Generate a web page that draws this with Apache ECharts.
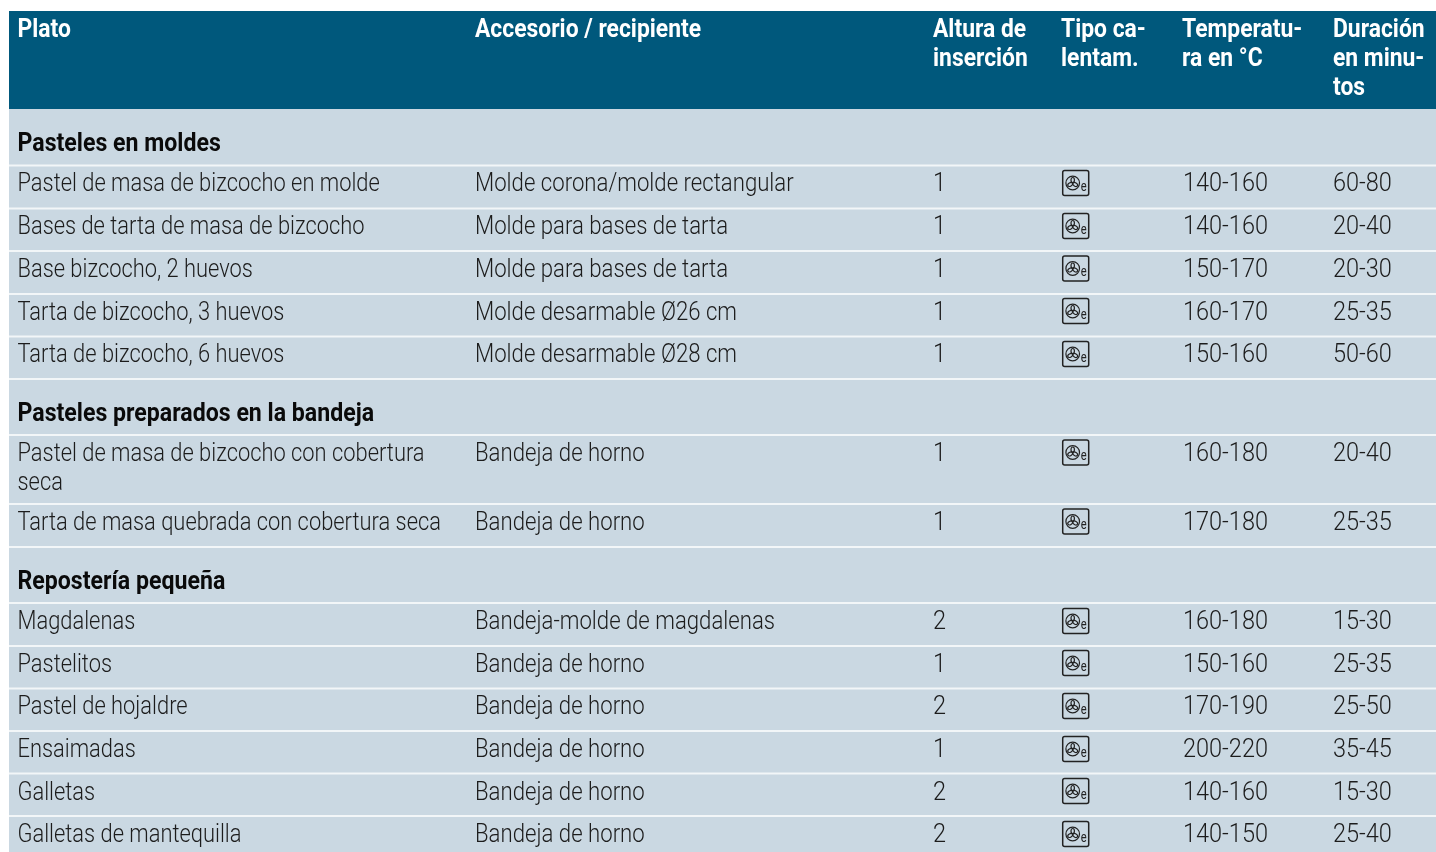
<!DOCTYPE html>
<html>
<head>
<meta charset="utf-8">
<style>
  html, body { margin: 0; padding: 0; background: #fff; }
  #main { width: 1436px; height: 852px; }
</style>
<script src="https://cdn.jsdelivr.net/npm/echarts@6/dist/echarts.min.js"></script>
</head>
<body>
<div id="main"></div>
<script>
// table contents
const headers = [
  ['Plato'],
  ['Accesorio / recipiente'],
  ['Altura de', 'inserción'],
  ['Tipo ca-', 'lentam.'],
  ['Temperatu-', 'ra en °C'],
  ['Duración', 'en minu-', 'tos']
]
const sections = ['Pasteles en moldes', 'Pasteles preparados en la bandeja', 'Repostería pequeña']
const platos = [
  ['Pastel de masa de bizcocho en molde'],
  ['Bases de tarta de masa de bizcocho'],
  ['Base bizcocho, 2 huevos'],
  ['Tarta de bizcocho, 3 huevos'],
  ['Tarta de bizcocho, 6 huevos'],
  ['Pastel de masa de bizcocho con cobertura', 'seca'],
  ['Tarta de masa quebrada con cobertura seca'],
  ['Magdalenas'],
  ['Pastelitos'],
  ['Pastel de hojaldre'],
  ['Ensaimadas'],
  ['Galletas'],
  ['Galletas de mantequilla']
]
const accesorios = [
  'Molde corona/molde rectangular',
  'Molde para bases de tarta',
  'Molde para bases de tarta',
  'Molde desarmable Ø26 cm',
  'Molde desarmable Ø28 cm',
  'Bandeja de horno',
  'Bandeja de horno',
  'Bandeja-molde de magdalenas',
  'Bandeja de horno',
  'Bandeja de horno',
  'Bandeja de horno',
  'Bandeja de horno',
  'Bandeja de horno'
]
const alturas = ['1', '1', '1', '1', '1', '1', '1', '2', '1', '2', '1', '2', '2']
const temperaturas = ['140-160', '140-160', '150-170', '160-170', '150-160', '160-180', '170-180', '160-180', '150-160', '170-190', '200-220', '140-160', '140-150']
const duraciones = ['60-80', '20-40', '20-30', '25-35', '50-60', '20-40', '25-35', '15-30', '25-35', '25-50', '35-45', '15-30', '25-40']

// layout, in page pixels
const colX = [17.5, 475, 933, 1061, 1182, 1333]
const headerLineY = [31, 60, 89]
const sectionY = [145, 415, 583]
const rowY = [185, 228, 271, 314, 356, 455, 524, 623, 666, 708, 751, 794, 836]
const iconY = [183, 226, 268.5, 311, 354, 452.5, 521.5, 621, 663, 706, 749, 791, 834]
const lineY = [165.5, 208.5, 251, 294, 336.5, 379, 435, 504, 547, 603, 646, 688.5, 731, 773.5, 816]
const lineHeight = 29

const BODY_FONT = 'Roboto'
const PLATO_SCALE = 0.875
const ACCESORIO_SCALE = 0.887
const NUMBER_SCALE = 0.94
const HEAD_SCALE = 0.915
const SECTION_SCALE = 0.925

const textData = []
headers.forEach((lines, c) => lines.forEach((t, i) => textData.push([colX[c], headerLineY[i], t, 700, '#ffffff', HEAD_SCALE])))
sections.forEach((t, i) => textData.push([colX[0], sectionY[i], t, 700, '#0a0a0a', SECTION_SCALE]))
platos.forEach((lines, r) => {
  lines.forEach((t, i) => textData.push([colX[0], rowY[r] + i * lineHeight, t, 300, '#1c1c1c', PLATO_SCALE]))
  textData.push([colX[1], rowY[r], accesorios[r], 300, '#1c1c1c', ACCESORIO_SCALE])
  textData.push([colX[2], rowY[r], alturas[r], 300, '#1c1c1c', NUMBER_SCALE])
  textData.push([colX[4] + 1, rowY[r], temperaturas[r], 300, '#1c1c1c', NUMBER_SCALE])
  textData.push([colX[5], rowY[r], duraciones[r], 300, '#1c1c1c', NUMBER_SCALE])
})

function renderBand(params, api) {
  const a = api.coord([api.value(0), api.value(1)])
  const b = api.coord([api.value(2), api.value(3)])
  return {
    type: 'rect',
    shape: { x: a[0], y: a[1], width: b[0] - a[0], height: b[1] - a[1] },
    style: { fill: api.value(4) }
  }
}

function renderLine(params, api) {
  const a = api.coord([9, api.value(0)])
  const b = api.coord([1436, api.value(0)])
  return {
    type: 'line',
    shape: { x1: a[0], y1: a[1], x2: b[0], y2: b[1] },
    style: { stroke: '#f2f6f8', lineWidth: 2 }
  }
}

function renderText(params, api) {
  const p = api.coord([api.value(0), api.value(1)])
  return {
    type: 'text',
    x: p[0],
    y: p[1],
    scaleX: api.value(5),
    style: {
      x: 0,
      y: 0,
      text: api.value(2),
      fontFamily: BODY_FONT,
      fontSize: 25,
      fontWeight: api.value(3),
      fill: api.value(4),
      align: 'left',
      verticalAlign: 'middle'
    }
  }
}

function renderIcon(params, api) {
  const p = api.coord([1075.7, api.value(0)])
  const stroke = '#222222'
  // three fan blades around the hub
  const blades = [0, 120, 240].map(deg => ({
    type: 'ellipse',
    x: -3,
    y: 0,
    rotation: -deg * Math.PI / 180,
    shape: { cx: 0, cy: -2.9, rx: 1.7, ry: 2.6 },
    style: { fill: 'none', stroke: stroke, lineWidth: 1.2 }
  }))
  return {
    type: 'group',
    x: p[0],
    y: p[1],
    children: [
      {
        type: 'rect',
        shape: { x: -13, y: -12.5, width: 26, height: 25, r: 2 },
        style: { fill: 'none', stroke: stroke, lineWidth: 1.5 }
      },
      {
        type: 'circle',
        shape: { cx: -3, cy: 0, r: 6.8 },
        style: { fill: 'none', stroke: stroke, lineWidth: 1.2 }
      },
      ...blades,
      {
        type: 'text',
        x: 5,
        y: 4,
        scaleX: 0.8,
        style: { x: 0, y: 0, text: 'e', fontFamily: BODY_FONT, fontSize: 14, fill: stroke, verticalAlign: 'middle' }
      }
    ]
  }
}

const chart = echarts.init(document.getElementById('main'), null, { renderer: 'canvas' })
chart.setOption({
  animation: false,
  grid: { left: 0, right: 0, top: 0, bottom: 0 },
  xAxis: { type: 'value', min: 0, max: 1436, show: false },
  yAxis: { type: 'value', min: 0, max: 852, inverse: true, show: false },
  series: [
    {
      type: 'custom',
      name: 'fondo',
      coordinateSystem: 'cartesian2d',
      renderItem: renderBand,
      silent: true,
      data: [[9, 109, 1436, 852, '#cad8e2'], [9, 11, 1436, 109, '#00587c']]
    },
    {
      type: 'custom',
      name: 'lineas',
      renderItem: renderLine,
      silent: true,
      data: lineY.map(y => [y])
    },
    {
      type: 'custom',
      name: 'iconos',
      renderItem: renderIcon,
      silent: true,
      data: iconY.map(y => [y])
    },
    {
      type: 'custom',
      name: 'textos',
      renderItem: renderText,
      silent: true,
      data: textData
    }
  ]
})
</script>
</body>
</html>
